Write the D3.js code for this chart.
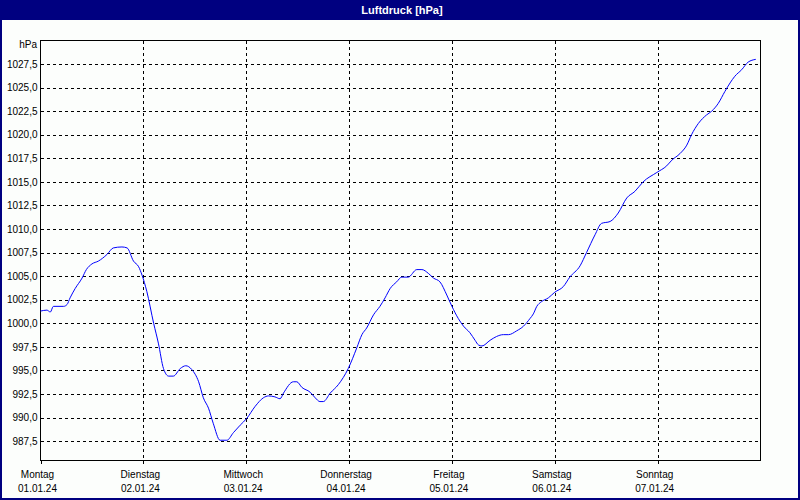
<!DOCTYPE html>
<html>
<head>
<meta charset="utf-8">
<script src="https://cdn.jsdelivr.net/npm/d3@7"></script>
<style>
  body { margin: 0; background: #fff; }
  text { font-family: "Liberation Sans", Arial, sans-serif; }
</style>
</head>
<body>
<svg id="chart"></svg>
<script>
// Data: hours since Mon 01.01.24 00:00 and pressure in hPa
const hours = [0, 1.5, 2.3, 3.0, 5.4, 6.2, 6.9, 8.1, 9.7, 10.7, 12.0, 13.5, 15.5, 17.0, 19.0, 20.2, 21.7, 22.9, 23.7, 24.8,
  26.4, 27.5, 28.7, 29.9, 31.0, 32.6, 33.9, 35.3, 36.9, 38.0, 39.2, 40.3, 41.9, 43.5, 45.0, 46.6, 48.1, 50.1, 52.0, 53.2,
  54.7, 55.9, 56.7, 59.0, 59.8, 61.0, 62.9, 64.1, 65.2, 66.0, 67.6, 69.5, 71.8, 73.8, 75.0, 76.1, 77.7, 79.2, 80.4, 81.6,
  83.1, 84.3, 85.8, 87.8, 89.0, 90.5, 91.7, 93.2, 94.8, 96.0, 97.5, 98.7, 100.2, 101.4, 102.2, 103.0, 104.9, 106.4, 108.0, 109.2,
  111.1, 112.7, 114.2, 115.0, 115.8, 116.9, 118.5, 120.0, 122.0, 123.5, 125.9, 127.4, 129.4, 130.9, 132.9, 134.8, 136.8, 138.7, 140.6, 143.8,
  146.1, 147.3, 149.2, 150.8, 151.9, 153.5, 155.4, 156.6, 158.1, 159.7, 160.9, 162.0, 163.6, 165.1, 166.9];

const pressure = [1001.3, 1001.4, 1001.2, 1001.8, 1001.8, 1002.0, 1002.7, 1003.7, 1004.8, 1005.7,
  1006.3, 1006.6, 1007.3, 1008.0, 1008.1, 1008.0, 1006.6, 1006.0, 1005.1, 1003.4,
  1000.0, 997.9, 995.2, 994.4, 994.4, 995.2, 995.5, 995.1, 993.8, 992.1,
  991.0, 989.4, 987.6, 987.6, 988.4, 989.2, 989.9, 991.2, 992.1, 992.3,
  992.2, 992.0, 992.6, 993.8, 993.8, 993.2, 992.7, 992.1, 991.7, 991.7,
  992.6, 993.5, 995.2, 997.4, 998.8, 999.5, 1000.9, 1001.8, 1002.7, 1003.7,
  1004.4, 1004.9, 1004.9, 1005.7, 1005.7, 1005.3, 1004.8, 1004.4, 1003.0, 1001.8,
  1000.5, 999.7, 999.0, 998.2, 997.7, 997.6, 998.2, 998.6, 998.8, 998.8,
  999.2, 999.7, 1000.5, 1001.0, 1001.8, 1002.3, 1002.7, 1003.3, 1003.9, 1004.9,
  1006.1, 1007.5, 1009.4, 1010.6, 1010.8, 1011.7, 1013.3, 1014.0, 1015.0, 1016.0,
  1016.7, 1017.3, 1018.0, 1018.9, 1020.0, 1021.2, 1022.1, 1022.5, 1023.3, 1024.6,
  1025.5, 1026.2, 1026.9, 1027.7, 1028.0];

const dayNames = ['Montag', 'Dienstag', 'Mittwoch', 'Donnerstag', 'Freitag', 'Samstag', 'Sonntag'];
const dayDates = ['01.01.24', '02.01.24', '03.01.24', '04.01.24', '05.01.24', '06.01.24', '07.01.24'];
const yTicks = [987.5, 990, 992.5, 995, 997.5, 1000, 1002.5, 1005, 1007.5, 1010, 1012.5, 1015, 1017.5, 1020, 1022.5, 1025, 1027.5];

let width = 800;
let height = 500;
let plot = { left: 40.5, right: 760.5, top: 40.5, bottom: 460.5 };

let svg = d3.select('#chart')
    .attr('width', width)
    .attr('height', height);

// window background and title bar
svg.append('rect')
    .attr('x', 1).attr('y', 1)
    .attr('width', width - 2).attr('height', height - 2)
    .attr('fill', '#fcfefc')
    .attr('stroke', '#000080')
    .attr('stroke-width', 2);

svg.append('rect')
    .attr('x', 0).attr('y', 0)
    .attr('width', width).attr('height', 20)
    .attr('fill', '#000080');

svg.append('text')
    .attr('x', width / 2 + 2)
    .attr('y', 14)
    .attr('text-anchor', 'middle')
    .attr('fill', '#fff')
    .style('font-size', '11px')
    .style('font-weight', 'bold')
    .text('Luftdruck [hPa]');

const t0 = new Date(2024, 0, 1);
const toDate = h => new Date(t0.getTime() + h * 3600 * 1000);
const data = hours.map((h, i) => ({ t: toDate(h), v: pressure[i] }));

let xScale = d3.scaleTime()
    .domain([t0, toDate(168)])
    .range([plot.left, plot.right]);

let yScale = d3.scaleLinear()
    .domain([985.45, 1030])
    .range([plot.bottom, plot.top]);

const dayStarts = dayNames.map((d, i) => toDate(i * 24));

// horizontal gridlines + labels
let yAxis = d3.axisLeft(yScale)
    .tickValues(yTicks)
    .tickSize(-(plot.right - plot.left))
    .tickPadding(4)
    .tickFormat(d => d3.format('.1f')(d).replace('.', ','));

let gy = svg.append('g')
    .attr('transform', `translate(${plot.left},0)`)
    .call(yAxis);
gy.select('.domain').remove();
gy.selectAll('.tick line')
    .attr('stroke', '#000')
    .attr('stroke-dasharray', '3,3')
    .attr('shape-rendering', 'crispEdges');
gy.selectAll('.tick text')
    .attr('x', -3)
    .style('font-size', '10px')
    .style('font-family', '"Liberation Sans", Arial, sans-serif')
    .attr('fill', '#000');

// vertical gridlines at day starts
svg.append('g')
    .selectAll('line')
    .data(dayStarts.slice(1))
    .enter()
    .append('line')
    .attr('x1', d => Math.round(xScale(d)) + 0.5)
    .attr('x2', d => Math.round(xScale(d)) + 0.5)
    .attr('y1', plot.top)
    .attr('y2', plot.bottom)
    .attr('stroke', '#000')
    .attr('stroke-dasharray', '3,3')
    .attr('shape-rendering', 'crispEdges');

// bottom ticks and day labels
let xAxis = d3.axisBottom(xScale)
    .tickValues(dayStarts)
    .tickSize(3)
    .tickFormat('');
let gx = svg.append('g')
    .attr('transform', `translate(0,${plot.bottom})`)
    .call(xAxis);
gx.select('.domain').remove();
gx.selectAll('.tick line').attr('stroke', '#000').attr('shape-rendering', 'crispEdges');

let labels = svg.append('g')
    .selectAll('g')
    .data(dayStarts)
    .enter()
    .append('g')
    .attr('transform', d => `translate(${xScale(d) - 3},0)`);

labels.append('text')
    .attr('y', 478)
    .attr('text-anchor', 'middle')
    .style('font-size', '10px')
    .text((d, i) => dayNames[i]);

labels.append('text')
    .attr('y', 492)
    .attr('text-anchor', 'middle')
    .style('font-size', '10px')
    .text((d, i) => dayDates[i]);

// unit label
svg.append('text')
    .attr('x', 37)
    .attr('y', 48)
    .attr('text-anchor', 'end')
    .style('font-size', '10px')
    .text('hPa');

// plot frame
svg.append('rect')
    .attr('x', plot.left).attr('y', plot.top)
    .attr('width', plot.right - plot.left)
    .attr('height', plot.bottom - plot.top)
    .attr('fill', 'none')
    .attr('stroke', '#000')
    .attr('shape-rendering', 'crispEdges');

// pressure line
let line = d3.line()
    .x(d => xScale(d.t))
    .y(d => yScale(d.v))
    .curve(d3.curveMonotoneX);

svg.append('path')
    .datum(data)
    .attr('fill', 'none')
    .attr('stroke', '#0000ff')
    .attr('stroke-width', 1)
    .attr('d', line);
</script>
</body>
</html>
